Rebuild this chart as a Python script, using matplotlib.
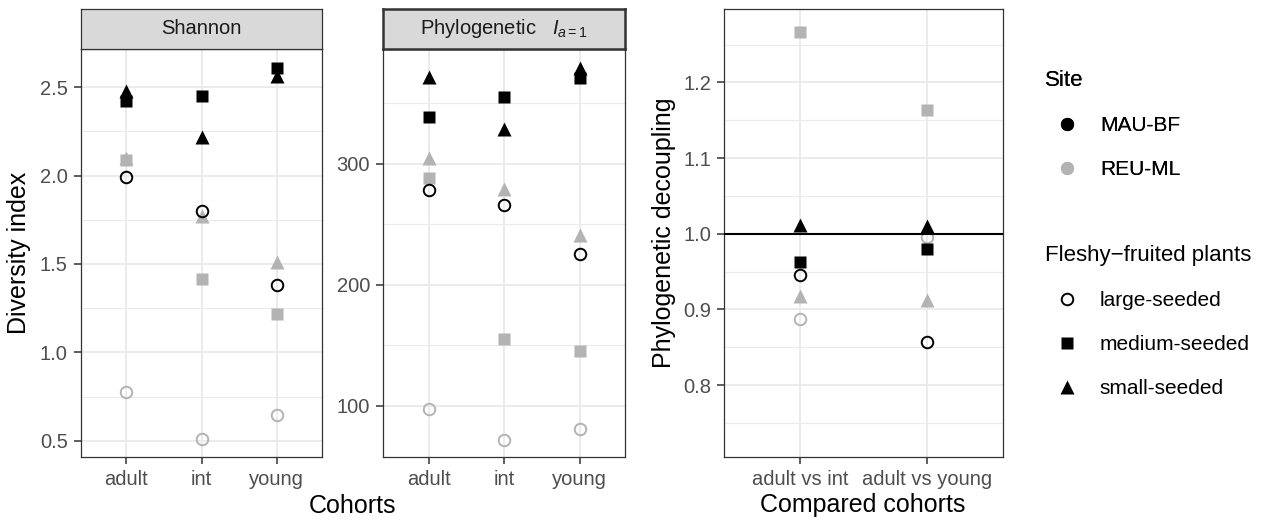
import matplotlib
matplotlib.use("Agg")
import matplotlib.pyplot as plt
from matplotlib.lines import Line2D
from matplotlib.ticker import FixedLocator

plt.rcParams['font.family'] = ['Liberation Sans', 'DejaVu Sans']
plt.rcParams['mathtext.fontset'] = 'custom'
plt.rcParams['mathtext.it'] = 'Liberation Sans:italic'
plt.rcParams['mathtext.rm'] = 'Liberation Sans'

# ---------------- data ----------------
cohorts = ['adult', 'int', 'young']
comparisons = ['adult vs int', 'adult vs young']
sites = ['MAU-BF', 'REU-ML']
sizes = ['large-seeded', 'medium-seeded', 'small-seeded']

# Shannon diversity (adult, int, young)
shannon_mau_large = [1.99, 1.80, 1.38]
shannon_mau_medium = [2.42, 2.45, 2.61]
shannon_mau_small = [2.48, 2.22, 2.56]
shannon_reu_large = [0.775, 0.51, 0.645]
shannon_reu_medium = [2.085, 1.415, 1.22]
shannon_reu_small = [2.10, 1.77, 1.51]

# Phylogenetic diversity I(a=1) (adult, int, young)
phylo_mau_large = [278, 266, 225]
phylo_mau_medium = [339, 355, 371]
phylo_mau_small = [372, 329, 379]
phylo_reu_large = [97, 72, 81]
phylo_reu_medium = [288, 155, 145]
phylo_reu_small = [305, 279, 241]

# Phylogenetic decoupling (adult vs int, adult vs young)
decoup_mau_large = [0.946, 0.857]
decoup_mau_medium = [0.963, 0.980]
decoup_mau_small = [1.011, 1.010]
decoup_reu_large = [0.887, 0.996]
decoup_reu_medium = [1.266, 1.164]
decoup_reu_small = [0.918, 0.912]

# ---------------- styles ----------------
site_colors = {'MAU-BF': 'black', 'REU-ML': '#B3B3B3'}
size_markers = {'large-seeded': 'o', 'medium-seeded': 's', 'small-seeded': '^'}
size_ms = {'large-seeded': 8.3, 'medium-seeded': 8.0, 'small-seeded': 10.5}

W, H = 1265, 529
fig = plt.figure(figsize=(W / 100, H / 100), dpi=100)


def fr(left, top, right, bottom):
    return [left / W, 1 - bottom / H, (right - left) / W, (bottom - top) / H]


GRID_MAJ = '#EBEBEB'
TICK_COL = '#4D4D4D'
BORDER = '#333333'
TICK_FS = 14.5
TITLE_FS = 18


def style_axes(ax, ymaj, ymin, ylim, ncat, labels):
    ax.set_xlim(0.4, ncat + 0.6)
    ax.set_ylim(*ylim)
    ax.set_xticks(range(1, ncat + 1))
    ax.set_xticklabels(labels)
    ax.yaxis.set_major_locator(FixedLocator(ymaj))
    ax.yaxis.set_minor_locator(FixedLocator(ymin))
    ax.grid(True, which='major', color=GRID_MAJ, linewidth=1.4, zorder=0)
    ax.grid(True, which='minor', axis='y', color=GRID_MAJ, linewidth=0.8, zorder=0)
    ax.set_axisbelow(True)
    for sp in ax.spines.values():
        sp.set_color(BORDER)
        sp.set_linewidth(0.9)
    ax.tick_params(axis='both', which='major', length=5.0, width=1.1, color=BORDER,
                   labelcolor=TICK_COL, labelsize=TICK_FS, pad=4.5)
    ax.tick_params(axis='y', which='minor', length=0)


def draw_points(ax, series, ncat):
    # series: list of (site, size, values); gray drawn first
    for site, size, vals in series:
        col = site_colors[site]
        mk = size_markers[size]
        xs = list(range(1, ncat + 1))
        if mk == 'o':
            ax.plot(xs, vals, linestyle='none', marker=mk, markersize=size_ms[size],
                    markerfacecolor='none', markeredgecolor=col, markeredgewidth=1.4, zorder=3)
        else:
            ax.plot(xs, vals, linestyle='none', marker=mk, markersize=size_ms[size],
                    markerfacecolor=col, markeredgecolor='none', zorder=3)


def strip(pos, label, lw):
    sax = fig.add_axes(pos)
    sax.set_facecolor('#D9D9D9')
    sax.set_xticks([])
    sax.set_yticks([])
    for sp in sax.spines.values():
        sp.set_color(BORDER)
        sp.set_linewidth(lw)
    sax.text(0.5, 0.5, label, ha='center', va='center', fontsize=14.5, color='#1A1A1A',
             transform=sax.transAxes)


# Panel 1: Shannon
ax1 = fig.add_axes(fr(81, 49, 322, 457))
style_axes(ax1, [0.5, 1.0, 1.5, 2.0, 2.5], [0.75, 1.25, 1.75, 2.25, 2.75],
           (0.409, 2.715), 3, cohorts)
draw_points(ax1, [
    ('REU-ML', 'large-seeded', shannon_reu_large),
    ('REU-ML', 'medium-seeded', shannon_reu_medium),
    ('REU-ML', 'small-seeded', shannon_reu_small),
    ('MAU-BF', 'large-seeded', shannon_mau_large),
    ('MAU-BF', 'medium-seeded', shannon_mau_medium),
    ('MAU-BF', 'small-seeded', shannon_mau_small),
], 3)
strip(fr(81, 9, 322, 49), 'Shannon', 0.9)

# Panel 2: Phylogenetic
ax2 = fig.add_axes(fr(383.3, 49, 625, 457))
style_axes(ax2, [100, 200, 300], [150, 250, 350], (57.6, 394.8), 3, cohorts)
draw_points(ax2, [
    ('REU-ML', 'large-seeded', phylo_reu_large),
    ('REU-ML', 'medium-seeded', phylo_reu_medium),
    ('REU-ML', 'small-seeded', phylo_reu_small),
    ('MAU-BF', 'large-seeded', phylo_mau_large),
    ('MAU-BF', 'medium-seeded', phylo_mau_medium),
    ('MAU-BF', 'small-seeded', phylo_mau_small),
], 3)
strip(fr(383.3, 9, 625, 49), r'Phylogenetic   $\mathit{I_{a=1}}$', 1.8)

# Panel 3: decoupling
ax3 = fig.add_axes(fr(724.3, 9, 1003.3, 457))
style_axes(ax3, [0.8, 0.9, 1.0, 1.1, 1.2], [0.75, 0.85, 0.95, 1.05, 1.15, 1.25],
           (0.705, 1.297), 2, comparisons)
draw_points(ax3, [
    ('REU-ML', 'large-seeded', decoup_reu_large),
    ('REU-ML', 'medium-seeded', decoup_reu_medium),
    ('REU-ML', 'small-seeded', decoup_reu_small),
    ('MAU-BF', 'large-seeded', decoup_mau_large),
    ('MAU-BF', 'medium-seeded', decoup_mau_medium),
    ('MAU-BF', 'small-seeded', decoup_mau_small),
], 2)
ax3.axhline(1.0, color='black', linewidth=1.5, zorder=4)

# Axis titles
fig.text(353 / W, 1 - 513 / H, 'Cohorts', ha='center', va='baseline', fontsize=TITLE_FS)
fig.text(863 / W, 1 - 512 / H, 'Compared cohorts', ha='center', va='baseline', fontsize=TITLE_FS)
fig.text(19 / W, 1 - 253 / H, 'Diversity index', ha='center', va='center',
         rotation=90, fontsize=TITLE_FS)
fig.text(664 / W, 1 - 233 / H, 'Phylogenetic decoupling', ha='center', va='center',
         rotation=90, fontsize=TITLE_FS)

# Legends
site_handles = [Line2D([], [], linestyle='none', marker='o', markersize=9.5,
                       markerfacecolor=site_colors[s], markeredgecolor='none') for s in sites]
size_handles = []
for sz in sizes:
    if size_markers[sz] == 'o':
        size_handles.append(Line2D([], [], linestyle='none', marker='o', markersize=8.3,
                                   markerfacecolor='none', markeredgecolor='black',
                                   markeredgewidth=1.4))
    else:
        size_handles.append(Line2D([], [], linestyle='none', marker=size_markers[sz],
                                   markersize=size_ms[sz], markerfacecolor='black',
                                   markeredgecolor='none'))

leg_kw = dict(frameon=False, fontsize=15, title_fontsize=16, alignment='left',
              handlelength=2.1, handletextpad=0.53, labelspacing=1.2, borderpad=0,
              borderaxespad=0, loc='upper left')
leg1 = fig.legend(site_handles, sites, title='Site',
                  bbox_to_anchor=(1045 / W, 1 - 70 / H), **leg_kw)
leg2 = fig.legend(size_handles, sizes, title='Fleshy\u2212fruited plants',
                  bbox_to_anchor=(1045 / W, 1 - 245 / H), **leg_kw)
fig.add_artist(leg1)

fig.savefig('out.png', dpi=100)
